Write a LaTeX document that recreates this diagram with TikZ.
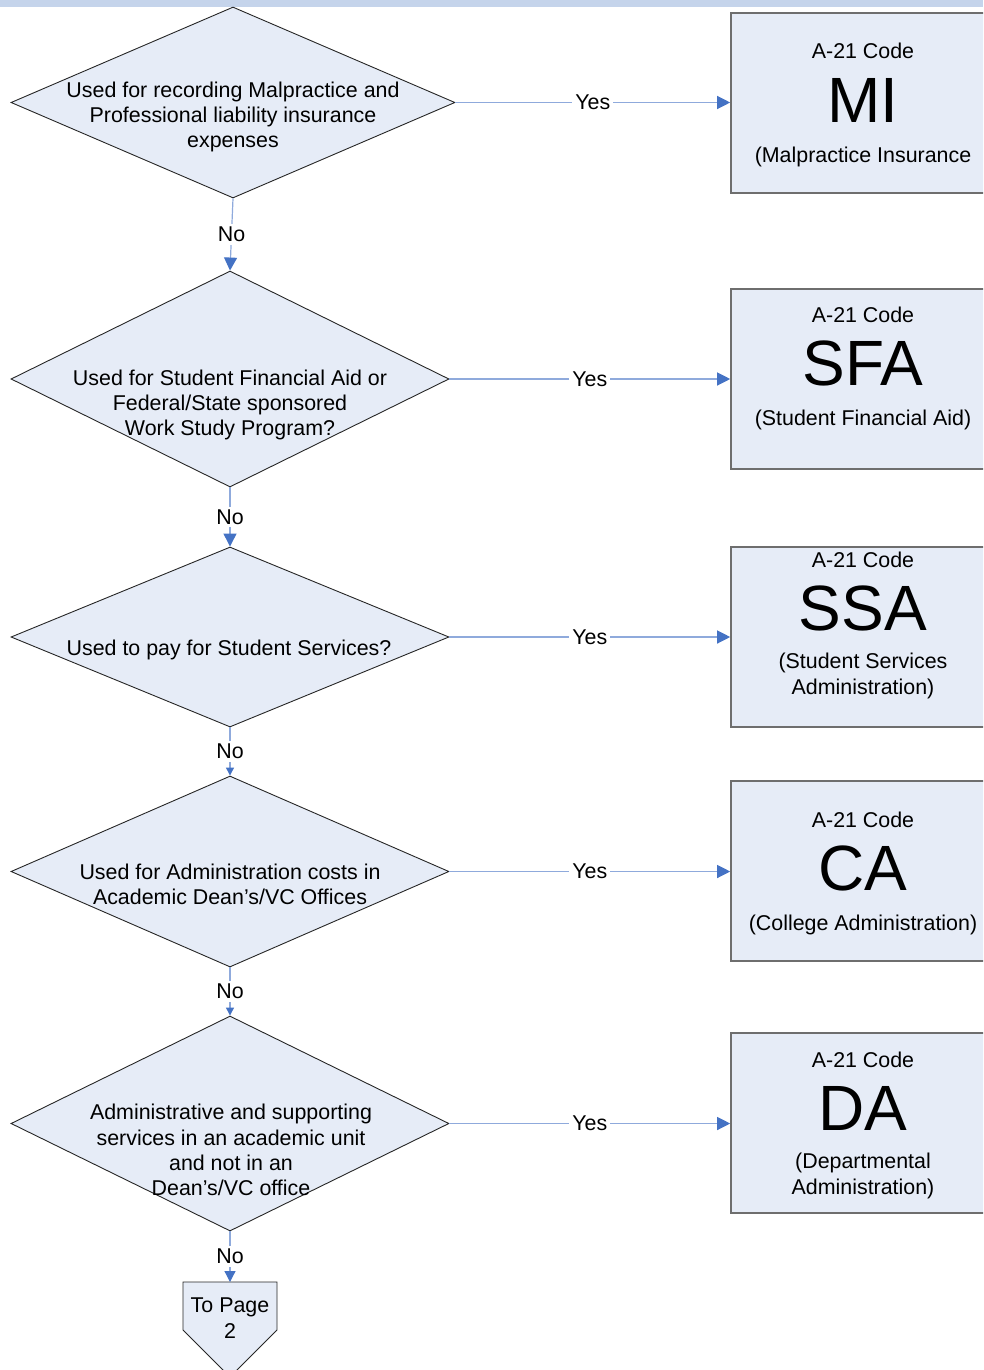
\documentclass[tikz,border=0pt]{standalone}
\usepackage{fontspec}
\setmainfont{Liberation Sans}
\usetikzlibrary{shapes.geometric,arrows.meta}
\definecolor{fillblue}{HTML}{E6ECF7}
\definecolor{barblue}{HTML}{C5D4EB}
\definecolor{lineblue}{HTML}{8FAADC}
\definecolor{tipblue}{HTML}{4472C4}
\definecolor{boxgray}{HTML}{6E6E6E}
\tikzset{
  decision/.style={shape=diamond, draw=black!85, line width=0.9pt, fill=fillblue, inner sep=0pt},
  codebox/.style={shape=rectangle, draw=boxgray, line width=1.6pt, fill=fillblue, inner sep=0pt, minimum width=270pt, minimum height=180pt},
  txt/.style={font=\fontsize{21.4}{25.3}\selectfont, align=center, inner sep=0pt},
  big/.style={font=\fontsize{64}{70}\selectfont, inner sep=0pt, anchor=base},
  small/.style={font=\fontsize{21.4}{25.3}\selectfont, inner sep=0pt, anchor=base},
  conn/.style={draw=lineblue, line width=1.2pt},
  lbl/.style={font=\fontsize{21.4}{25.3}\selectfont, fill=white, inner sep=3pt},
  tipbig/.style={-{Triangle[length=13pt,width=13pt,color=tipblue]}},
  tipmid/.style={-{Triangle[length=11pt,width=11pt,color=tipblue]}},
  tipsmall/.style={-{Triangle[length=8pt,width=8pt,color=tipblue]}},
}
\begin{document}
\begin{tikzpicture}[x=1pt,y=-1pt]
\useasboundingbox (0,0) rectangle (983,1370);
\clip (0,0) rectangle (983,1370);
\fill[barblue] (0,0) rectangle (983,7);

% decisions
\node[decision, minimum width=444pt, minimum height=191pt] (d1) at (233,102.5) {};
\node[decision, minimum width=438pt, minimum height=216pt] (d2) at (230,379) {};
\node[decision, minimum width=438pt, minimum height=180pt] (d3) at (230,637) {};
\node[decision, minimum width=438pt, minimum height=191pt] (d4) at (230,871.5) {};
\node[decision, minimum width=438pt, minimum height=215pt] (d5) at (230,1123.5) {};

\node[txt] (t1) at (233,117) {Used for recording Malpractice and\\Professional liability insurance\\expenses};
\node[txt] (t2) at (230,405) {Used for Student Financial Aid or\\Federal/State sponsored\\Work Study Program?};
\node[txt] (t3) at (229,650) {Used to pay for Student Services?};
\node[txt] (t4) at (230,884) {Used for Administration costs in\\Academic Dean’s/VC Offices};
\node[txt] (t5) at (231,1150) {Administrative and supporting\\services in an academic unit\\and not in an\\Dean’s/VC office};

% code boxes
\node[codebox] (b1) at (866,103) {};
\node[codebox] (b2) at (866,379) {};
\node[codebox] (b3) at (866,637) {};
\node[codebox] (b4) at (866,871) {};
\node[codebox] (b5) at (866,1123) {};

\node[small] (c1a) at (863,59) {A-21 Code};
\node[big]   (c1b) at (863,123) {MI};
\node[small] (c1c) at (863,162) {(Malpractice Insurance};

\node[small] (c2a) at (863,322) {A-21 Code};
\node[big]   (c2b) at (863,385) {SFA};
\node[small] (c2c) at (863,425) {(Student Financial Aid)};

\node[small] (c3a) at (863,567) {A-21 Code};
\node[big]   (c3b) at (863,630) {SSA};
\node[txt, anchor=center] (c3c) at (863,676) {(Student Services\\Administration)};

\node[small] (c4a) at (863,827) {A-21 Code};
\node[big]   (c4b) at (863,890) {CA};
\node[small] (c4c) at (863,930) {(College Administration)};

\node[small] (c5a) at (863,1067) {A-21 Code};
\node[big]   (c5b) at (863,1130) {DA};
\node[txt, anchor=center] (c5c) at (863,1176) {(Departmental\\Administration)};

% off-page connector
\coordinate (op) at (230,1282);
\draw[draw=black!85, line width=0.9pt, fill=fillblue] (183,1282) -- (277,1282) -- (277,1330) -- (230,1377) -- (183,1330) -- cycle;
\node[txt] (t6) at (230,1318) {To Page\\2};

% yes connectors
\draw[conn, tipbig] (d1.east) -- node[lbl] {Yes} (d1.east -| b1.west);
\draw[conn, tipbig] (d2.east) -- node[lbl] {Yes} (d2.east -| b2.west);
\draw[conn, tipbig] (d3.east) -- node[lbl] {Yes} (d3.east -| b3.west);
\draw[conn, tipbig] (d4.east) -- node[lbl] {Yes} (d4.east -| b4.west);
\draw[conn, tipbig] (d5.east) -- node[lbl] {Yes} (d5.east -| b5.west);

% no connectors
\draw[conn, tipbig] (d1.south) -- node[lbl] {No} (d2.north);
\draw[conn, tipbig] (d2.south) -- node[lbl] {No} (d3.north);
\draw[conn, tipsmall] (d3.south) -- node[lbl] {No} (d4.north);
\draw[conn, tipsmall] (d4.south) -- node[lbl] {No} (d5.north);
\draw[conn, tipmid] (d5.south) -- node[lbl] {No} (op);
\end{tikzpicture}
\end{document}
